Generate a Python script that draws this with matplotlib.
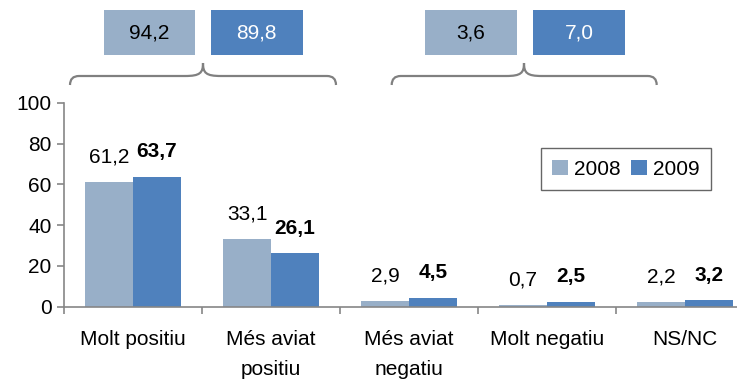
import matplotlib
matplotlib.use("Agg")
import matplotlib.pyplot as plt
from matplotlib.path import Path
from matplotlib.patches import PathPatch, Rectangle
import numpy as np

plt.rcParams['font.family'] = ['Liberation Sans', 'DejaVu Sans']

categories = ["Molt positiu", "Més aviat\npositiu", "Més aviat\nnegatiu", "Molt negatiu", "NS/NC"]
years = ["2008", "2009"]
values_2008 = [61.2, 33.1, 2.9, 0.7, 2.2]
values_2009 = [63.7, 26.1, 4.5, 2.5, 3.2]
# positive / negative totals per year
totals_positive = [94.2, 89.8]
totals_negative = [3.6, 7.0]
yticks = [0, 20, 40, 60, 80, 100]

c_light = "#98AFC8"
c_dark = "#4F81BD"
axis_gray = "#868686"
FS = 15

W, H = 737, 379
fig = plt.figure(figsize=(W / 100, H / 100), dpi=100)

# axes geometry in pixels
left_px, right_px = 64, 754
bottom_px, top_px = 306.7, 102.7
ax = fig.add_axes([left_px / W, 1 - bottom_px / H,
                   (right_px - left_px) / W, (bottom_px - top_px) / H])

x = np.arange(len(categories))
bw = 48 / 138
b1 = ax.bar(x - bw / 2, values_2008, bw, color=c_light, label=years[0])
b2 = ax.bar(x + bw / 2, values_2009, bw, color=c_dark, label=years[1])

for xi, v in zip(x - bw / 2, values_2008):
    ax.annotate(f"{v:.1f}".replace(".", ","), (xi, v), xytext=(0, 11),
                textcoords="offset points", ha="center", va="bottom",
                fontsize=FS)
for xi, v in zip(x + bw / 2, values_2009):
    ax.annotate(f"{v:.1f}".replace(".", ","), (xi, v), xytext=(0, 11),
                textcoords="offset points", ha="center", va="bottom",
                fontsize=FS, fontweight="bold")

ax.set_xlim(-0.5, 4.5)
ax.set_ylim(0, 100)
ax.set_yticks(yticks)
ax.set_yticklabels([str(t) for t in yticks], fontsize=FS)
ax.set_xticks(x)
ax.set_xticklabels(categories, fontsize=FS, linespacing=1.7)
ax.set_xticks(np.arange(-0.5, 5.0, 1.0), minor=True)
ax.tick_params(axis="x", which="major", length=0, pad=17)
ax.tick_params(axis="x", which="minor", length=5, color=axis_gray, width=1.2)
ax.tick_params(axis="y", length=5, color=axis_gray, width=1.2, pad=4)

for s in ["top", "right"]:
    ax.spines[s].set_visible(False)
for s in ["left", "bottom"]:
    ax.spines[s].set_color(axis_gray)
    ax.spines[s].set_linewidth(1.2)

leg = ax.legend(loc="upper left", bbox_to_anchor=((540.7 - left_px) / (right_px - left_px),
                                                  1 - (148.3 - top_px) / (bottom_px - top_px)),
                ncol=2, fontsize=FS, frameon=True, fancybox=False,
                handlelength=0.75, handleheight=0.75, handletextpad=0.3,
                columnspacing=0.5, borderpad=0.55, borderaxespad=0)
leg.get_frame().set_edgecolor("#404040")
leg.get_frame().set_linewidth(1.0)


def px(xp, yp):
    return (xp / W, 1 - yp / H)


# summary boxes above the chart
box_specs = [
    (104, 195, totals_positive[0], c_light, "black"),
    (211, 302.7, totals_positive[1], c_dark, "white"),
    (425, 517, totals_negative[0], c_light, "black"),
    (533, 625, totals_negative[1], c_dark, "white"),
]
for x0, x1, val, fc, tc in box_specs:
    y0, y1 = 10, 54.7
    fig.patches.append(Rectangle(px(x0, y1), (x1 - x0) / W, (y1 - y0) / H,
                                 transform=fig.transFigure, facecolor=fc,
                                 edgecolor="none"))
    cx, cy = px((x0 + x1) / 2, (y0 + y1) / 2 + 1)
    fig.text(cx, cy, f"{val:.1f}".replace(".", ","), ha="center", va="center",
             fontsize=FS, color=tc)


def brace(x0, x1, xc, y_end=85, y_arm=76, y_tip=63):
    r = 9
    verts = [
        px(x0, y_end),
        px(x0, y_arm), px(x0 + r, y_arm),
        px(xc - r * 2, y_arm),
        px(xc - 3, y_arm), px(xc, y_arm - 3), px(xc, y_tip),
        px(xc, y_arm - 3), px(xc + 3, y_arm), px(xc + r * 2, y_arm),
        px(x1 - r, y_arm),
        px(x1, y_arm), px(x1, y_end),
    ]
    codes = [Path.MOVETO,
             Path.CURVE3, Path.CURVE3,
             Path.LINETO,
             Path.CURVE4, Path.CURVE4, Path.CURVE4,
             Path.CURVE4, Path.CURVE4, Path.CURVE4,
             Path.LINETO,
             Path.CURVE3, Path.CURVE3]
    fig.patches.append(PathPatch(Path(verts, codes), transform=fig.transFigure,
                                 facecolor="none", edgecolor="#808080", lw=1.6))


brace(70, 336, 203)
brace(391.7, 656.7, 524)

fig.savefig("out.png", dpi=100)
